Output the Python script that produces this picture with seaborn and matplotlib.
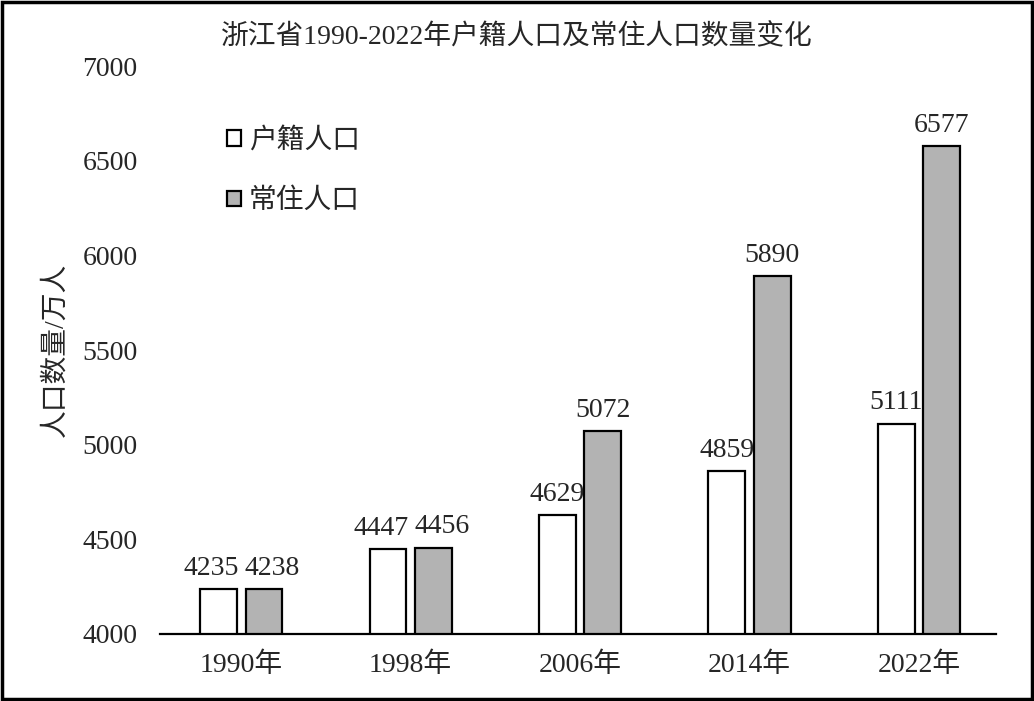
import pandas as pd
import matplotlib
matplotlib.use("Agg")
import matplotlib.pyplot as plt
import seaborn as sns

# 数据
years = ["1990年", "1998年", "2006年", "2014年", "2022年"]
huji = [4235, 4447, 4629, 4859, 5111]
changzhu = [4238, 4456, 5072, 5890, 6577]
series = ["户籍人口", "常住人口"]

df = pd.DataFrame({
    "年份": years * 2,
    "人口": huji + changzhu,
    "类型": [series[0]] * len(years) + [series[1]] * len(years),
})

sns.set_style("white")
plt.rcParams["font.family"] = ["Liberation Serif", "Noto Sans CJK SC"]

fig = plt.figure(figsize=(10.34, 7.01), dpi=100)
ax = fig.add_axes([0.1547, 0.0956, 0.8085, 0.8102])

sns.barplot(data=df, x="年份", y="人口", hue="类型", ax=ax,
            palette=["white", "#b3b3b3"], width=0.536, gap=0.19,
            edgecolor="black", linewidth=1.6, saturation=1)

# 数值标签（前两组靠得近，左右稍微错开）
for k, cont in enumerate(ax.containers):
    labels = ax.bar_label(cont, fmt="%d", padding=6, fontsize=20)
    for i, t in enumerate(labels):
        if i < 2:
            dx = -5 if k == 0 else 6
            t.xyann = (dx, t.xyann[1])

ax.set_ylim(4000, 7000)
ax.set_xlim(-0.48, 4.455)
ax.set_yticks(range(4000, 7001, 500))
ax.tick_params(axis="both", length=0, labelsize=20)
ax.tick_params(axis="x", pad=13)
ax.tick_params(axis="y", pad=16)
for s in ["left", "right", "top"]:
    ax.spines[s].set_visible(False)
ax.spines["bottom"].set_color("black")
ax.spines["bottom"].set_linewidth(1.6)

ax.set_xlabel("")
ax.set_ylabel("人口数量/万人", fontsize=20, labelpad=10)
fig.suptitle("浙江省1990-2022年户籍人口及常住人口数量变化", fontsize=20, y=0.966)

leg = ax.legend(loc="upper left", bbox_to_anchor=(0.05, 0.935), frameon=False,
                fontsize=20, handlelength=0.5, handleheight=0.5,
                handletextpad=0.3, labelspacing=1.25)

# 外框
fig.patches.append(plt.Rectangle((0.002, 0.003), 0.996, 0.994, transform=fig.transFigure,
                                 fill=False, edgecolor="black", linewidth=2.5))

plt.savefig("out.png", dpi=100)
